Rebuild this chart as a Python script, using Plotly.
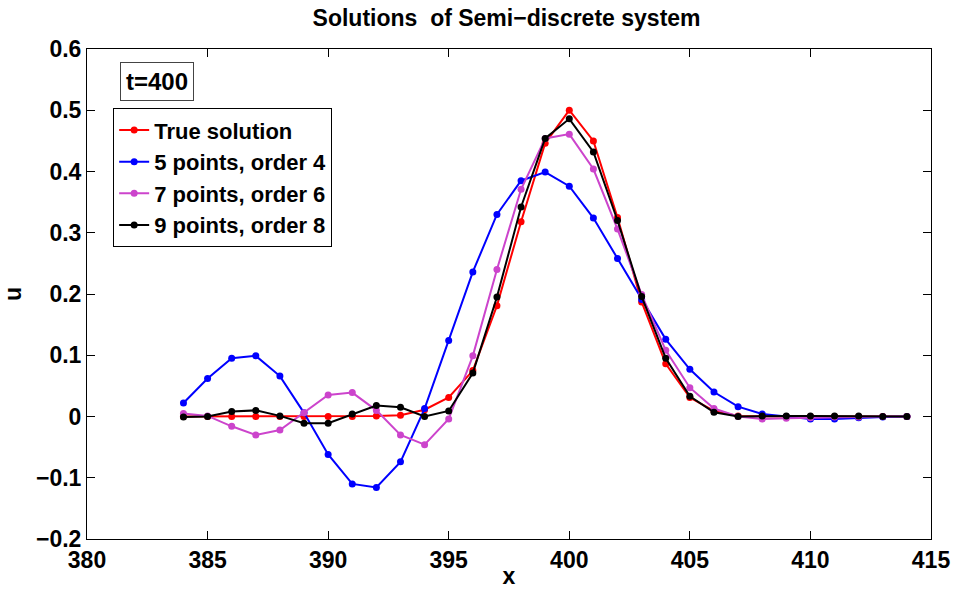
import plotly.graph_objects as go

# grid points
x = list(range(384, 415))

# exact solution at t=400
u_true = [0.000, 0.000, 0.000, 0.000, 0.000, 0.000, 0.000, 0.000, 0.001, 0.002,
          0.011, 0.031, 0.075, 0.181, 0.318, 0.446, 0.500, 0.450, 0.325, 0.187,
          0.086, 0.031, 0.009, 0.001, 0.000, 0.000, 0.000, 0.000, 0.000, 0.000, 0.000]

# 5-point stencil, 4th order
u_5pt = [0.022, 0.062, 0.095, 0.099, 0.066, 0.006, -0.062, -0.110, -0.116, -0.074,
         0.013, 0.124, 0.236, 0.330, 0.385, 0.399, 0.376, 0.324, 0.258, 0.191,
         0.126, 0.077, 0.040, 0.016, 0.004, 0.000, -0.004, -0.004, -0.002, -0.001, 0.000]

# 7-point stencil, 6th order
u_7pt = [0.005, 0.001, -0.016, -0.030, -0.022, 0.006, 0.035, 0.039, 0.010, -0.030,
         -0.046, -0.004, 0.099, 0.240, 0.371, 0.454, 0.461, 0.404, 0.306, 0.199,
         0.108, 0.047, 0.013, 0.000, -0.004, -0.003, -0.002, -0.001, -0.001, 0.000, 0.000]

# 9-point stencil, 8th order
u_9pt = [-0.001, 0.000, 0.008, 0.010, 0.001, -0.011, -0.011, 0.004, 0.018, 0.015,
         0.000, 0.009, 0.071, 0.195, 0.342, 0.454, 0.486, 0.432, 0.320, 0.196,
         0.095, 0.033, 0.007, 0.000, 0.001, 0.001, 0.001, 0.001, 0.001, 0.000, 0.000]

series = [
    ("True solution", u_true, "#ff0000"),
    ("5 points, order 4", u_5pt, "#0000ff"),
    ("7 points, order 6", u_7pt, "#cc44cc"),
    ("9 points, order 8", u_9pt, "#000000"),
]

FONT = "Liberation Sans, Arial, Helvetica, sans-serif"

fig = go.Figure()
for name, vals, col in series:
    fig.add_trace(go.Scatter(
        x=x, y=vals, name=name, mode="lines+markers",
        line=dict(color=col, width=2),
        marker=dict(color=col, size=7),
    ))

axis_common = dict(
    showgrid=False, zeroline=False, automargin=False,
    showline=True, linecolor="black", linewidth=1, mirror="ticks",
    ticks="inside", ticklen=8, tickcolor="black", tickwidth=1,
    tickfont=dict(family=FONT, size=23, color="black", weight="bold"),
)

fig.update_xaxes(range=[380, 415], tickmode="array",
                 tickvals=[380, 385, 390, 395, 400, 405, 410, 415],
                 title=dict(text="x", standoff=4,
                            font=dict(family=FONT, size=23, color="black", weight="bold")),
                 **axis_common)
fig.update_yaxes(range=[-0.2, 0.6], tickmode="array",
                 tickvals=[-0.2, -0.1, 0, 0.1, 0.2, 0.3, 0.4, 0.5, 0.6],
                 title=dict(text="u", standoff=12,
                            font=dict(family=FONT, size=23, color="black", weight="bold")),
                 **axis_common)

fig.add_annotation(
    text="t=400", xref="paper", yref="paper", x=0.083, y=0.933,
    xanchor="center", yanchor="middle", showarrow=False,
    font=dict(family=FONT, size=24, color="black", weight="bold"),
    bordercolor="#444444", borderwidth=1, borderpad=5, bgcolor="white",
)

fig.update_layout(
    width=954, height=589,
    margin=dict(l=87, r=23, t=49, b=50),
    paper_bgcolor="white", plot_bgcolor="white",
    title=dict(text="Solutions\u00a0 of Semi\u2212discrete system", x=0.531, xanchor="center",
               y=0.97, yanchor="middle",
               font=dict(family=FONT, size=23, color="black", weight="bold")),
    legend=dict(x=0.031, y=0.879, xanchor="left", yanchor="top",
                bordercolor="black", borderwidth=1, bgcolor="white",
                font=dict(family=FONT, size=22, color="black", weight="bold"),
                itemwidth=30, tracegroupgap=0),
    showlegend=True,
)

fig.write_html("out.html")
